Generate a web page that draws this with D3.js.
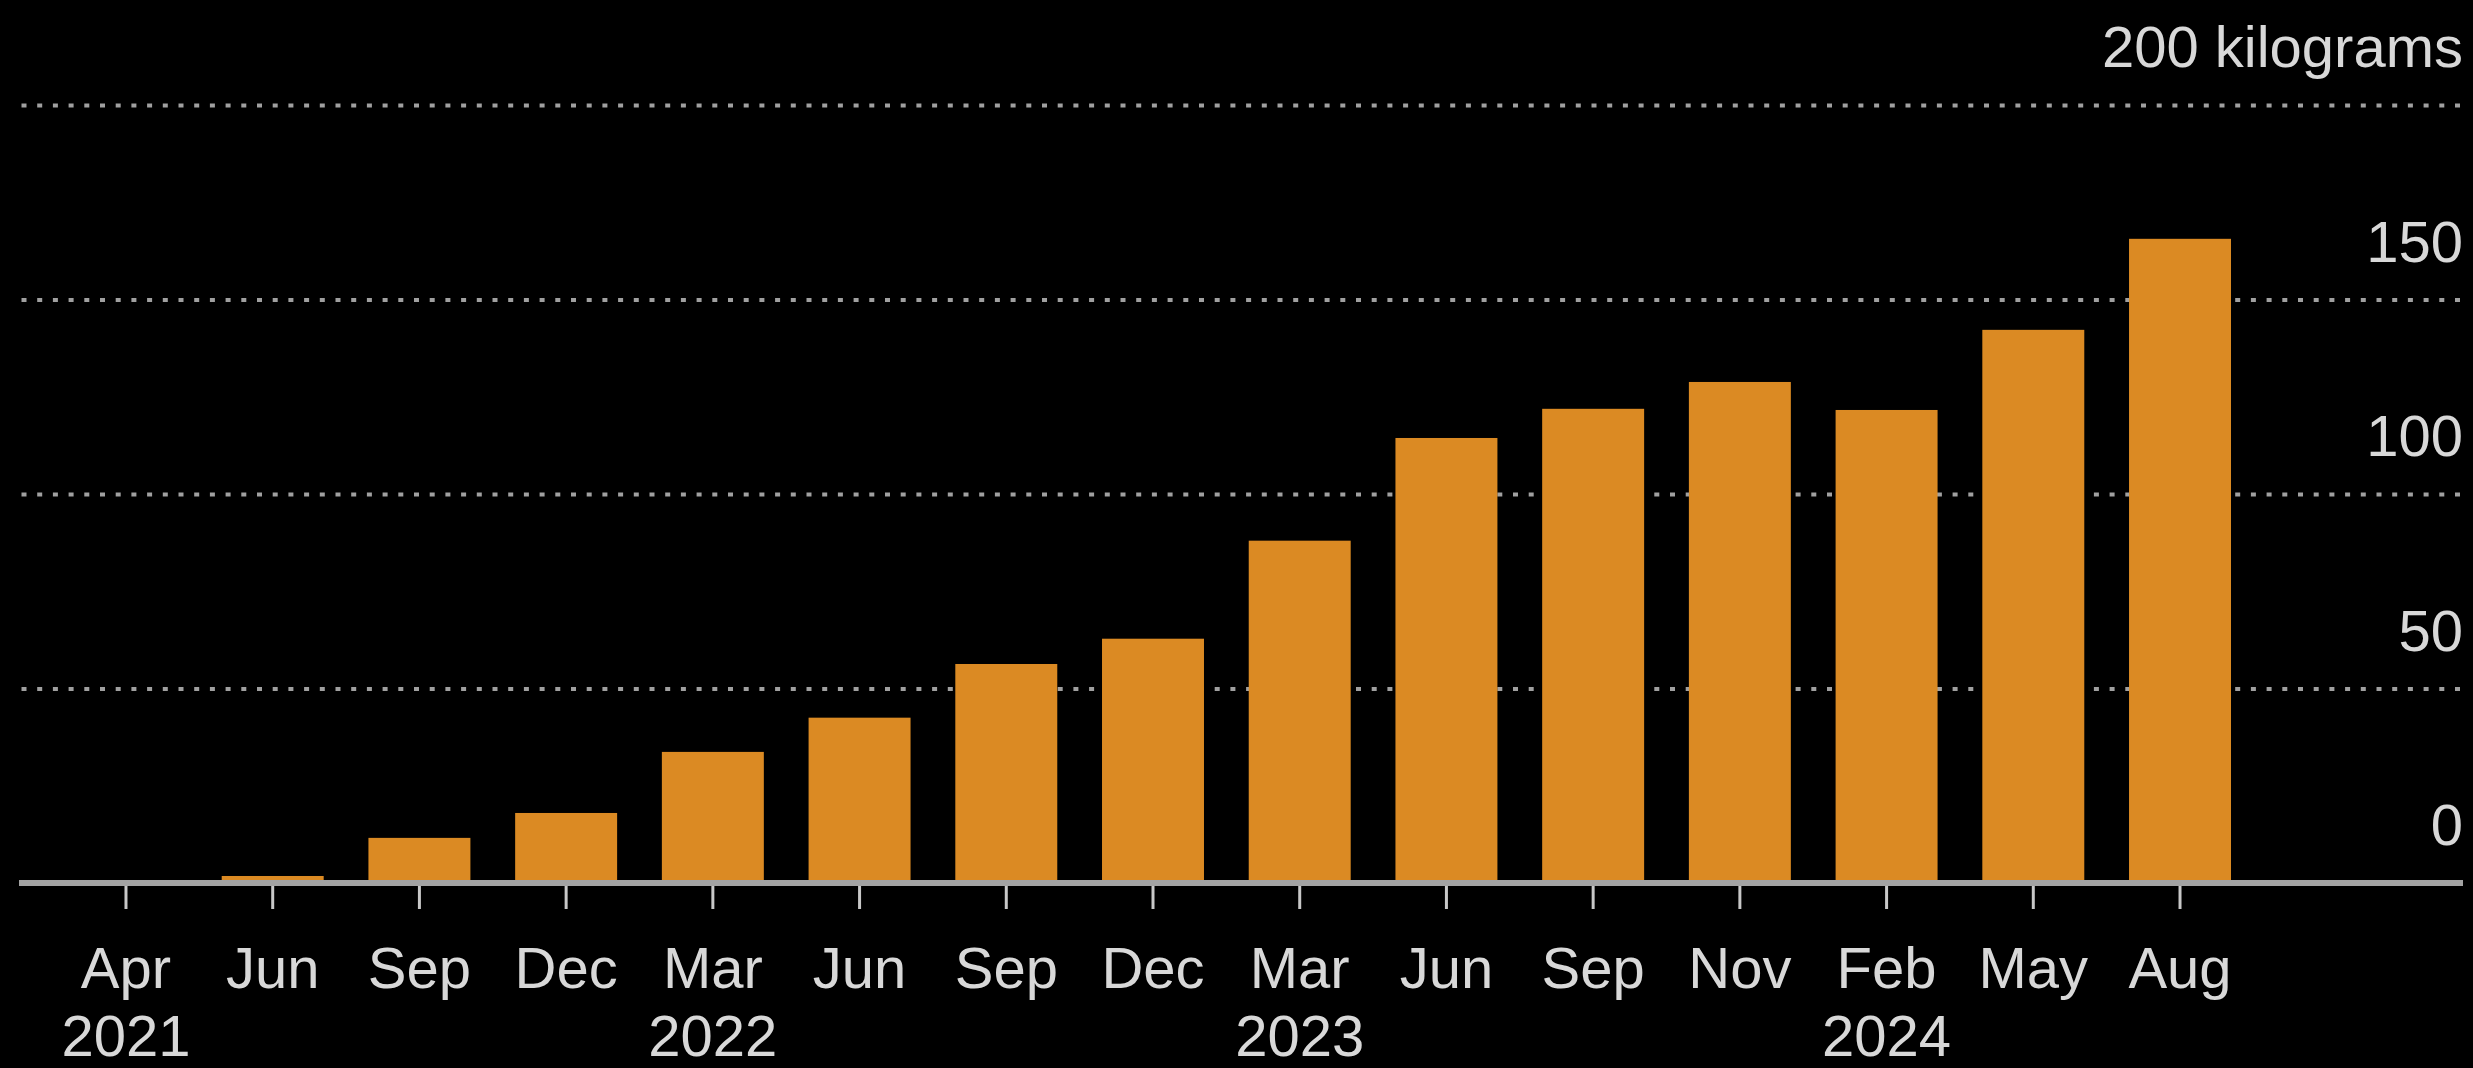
<!DOCTYPE html>
<html>
<head>
<meta charset="utf-8">
<script src="https://cdn.jsdelivr.net/npm/d3@7"></script>
<style>
  html, body { margin: 0; padding: 0; background: #000; }
  svg { display: block; }
</style>
</head>
<body>
<div id="chart"></div>
<script>
// Data
var months = ["Apr", "Jun", "Sep", "Dec", "Mar", "Jun", "Sep", "Dec", "Mar", "Jun", "Sep", "Nov", "Feb", "May", "Aug"];
var years  = ["2021", "", "", "", "2022", "", "", "", "2023", "", "", "", "2024", "", ""];
var kilograms = [0.6, 1.8, 11.6, 18.0, 33.7, 42.5, 56.3, 62.8, 88.0, 114.4, 121.9, 128.8, 121.6, 142.2, 165.6];
var yTicks = [0, 50, 100, 150, 200];
var unitLabel = "kilograms";

function barChart() {
    var width = 2473, height = 1068;
    var font = "'Liberation Sans', Arial, sans-serif";
    var textColor = "#d8d8d8";

    var svg = d3.select("#chart")
        .append("svg")
            .attr("width", width)
            .attr("height", height)
            .style("background", "#000");

    var ids = months.map(function(d, i) { return i; });

    // Set the ranges
    var x = d3.scaleBand()
        .domain(ids)
        .range([75, 2231])
        .paddingInner(0.305)
        .paddingOuter(0);

    var y = d3.scaleLinear()
        .domain([0, 200])
        .range([883, 105]);

    // dotted gridlines (0 is the solid baseline instead)
    svg.append("g")
        .attr("class", "grid")
        .attr("transform", "translate(2460,0)")
        .call(d3.axisLeft(y).tickValues(yTicks.filter(function(d) { return d > 0; }))
            .tickSize(2460 - 19).tickFormat(""))
        .call(function(g) { g.select(".domain").remove(); })
        .selectAll("line")
            .attr("stroke", "#a0a0a0")
            .attr("stroke-width", 4)
            .attr("stroke-dasharray", "5 10.7");

    // bars
    svg.append("g")
        .selectAll("rect")
        .data(kilograms)
        .join("rect")
            .attr("x", function(d, i) { return x(i); })
            .attr("y", function(d) { return y(d); })
            .attr("width", x.bandwidth())
            .attr("height", function(d) { return y(0) - y(d); })
            .attr("fill", "#db8a23");

    // baseline
    svg.append("line")
        .attr("x1", 19)
        .attr("x2", 2463)
        .attr("y1", y(0))
        .attr("y2", y(0))
        .attr("stroke", "#a3a3a3")
        .attr("stroke-width", 6);

    // X axis
    var xAxis = svg.append("g")
        .attr("transform", "translate(0," + (y(0) + 3) + ")")
        .call(d3.axisBottom(x).tickSize(23).tickFormat(function(i) { return months[i]; }));

    xAxis.select(".domain").remove();
    xAxis.selectAll(".tick line")
        .attr("stroke", "#c8c8c8")
        .attr("stroke-width", 3);

    xAxis.selectAll(".tick text")
        .attr("y", 102)
        .attr("dy", null)
        .style("font-family", font)
        .style("font-size", "58px")
        .attr("fill", textColor)
        .each(function(i) {
            if (years[i]) {
                d3.select(this).append("tspan")
                    .attr("x", 0)
                    .attr("dy", 68)
                    .text(years[i]);
            }
        });

    // Y labels, right aligned above each gridline
    svg.append("g")
        .selectAll("text")
        .data(yTicks)
        .join("text")
            .attr("x", 2463)
            .attr("y", function(d) { return y(d) - 38; })
            .attr("text-anchor", "end")
            .style("font-family", font)
            .style("font-size", "58px")
            .attr("fill", textColor)
            .text(function(d) { return d === 200 ? d + " " + unitLabel : d; });
}

barChart();
</script>
</body>
</html>
